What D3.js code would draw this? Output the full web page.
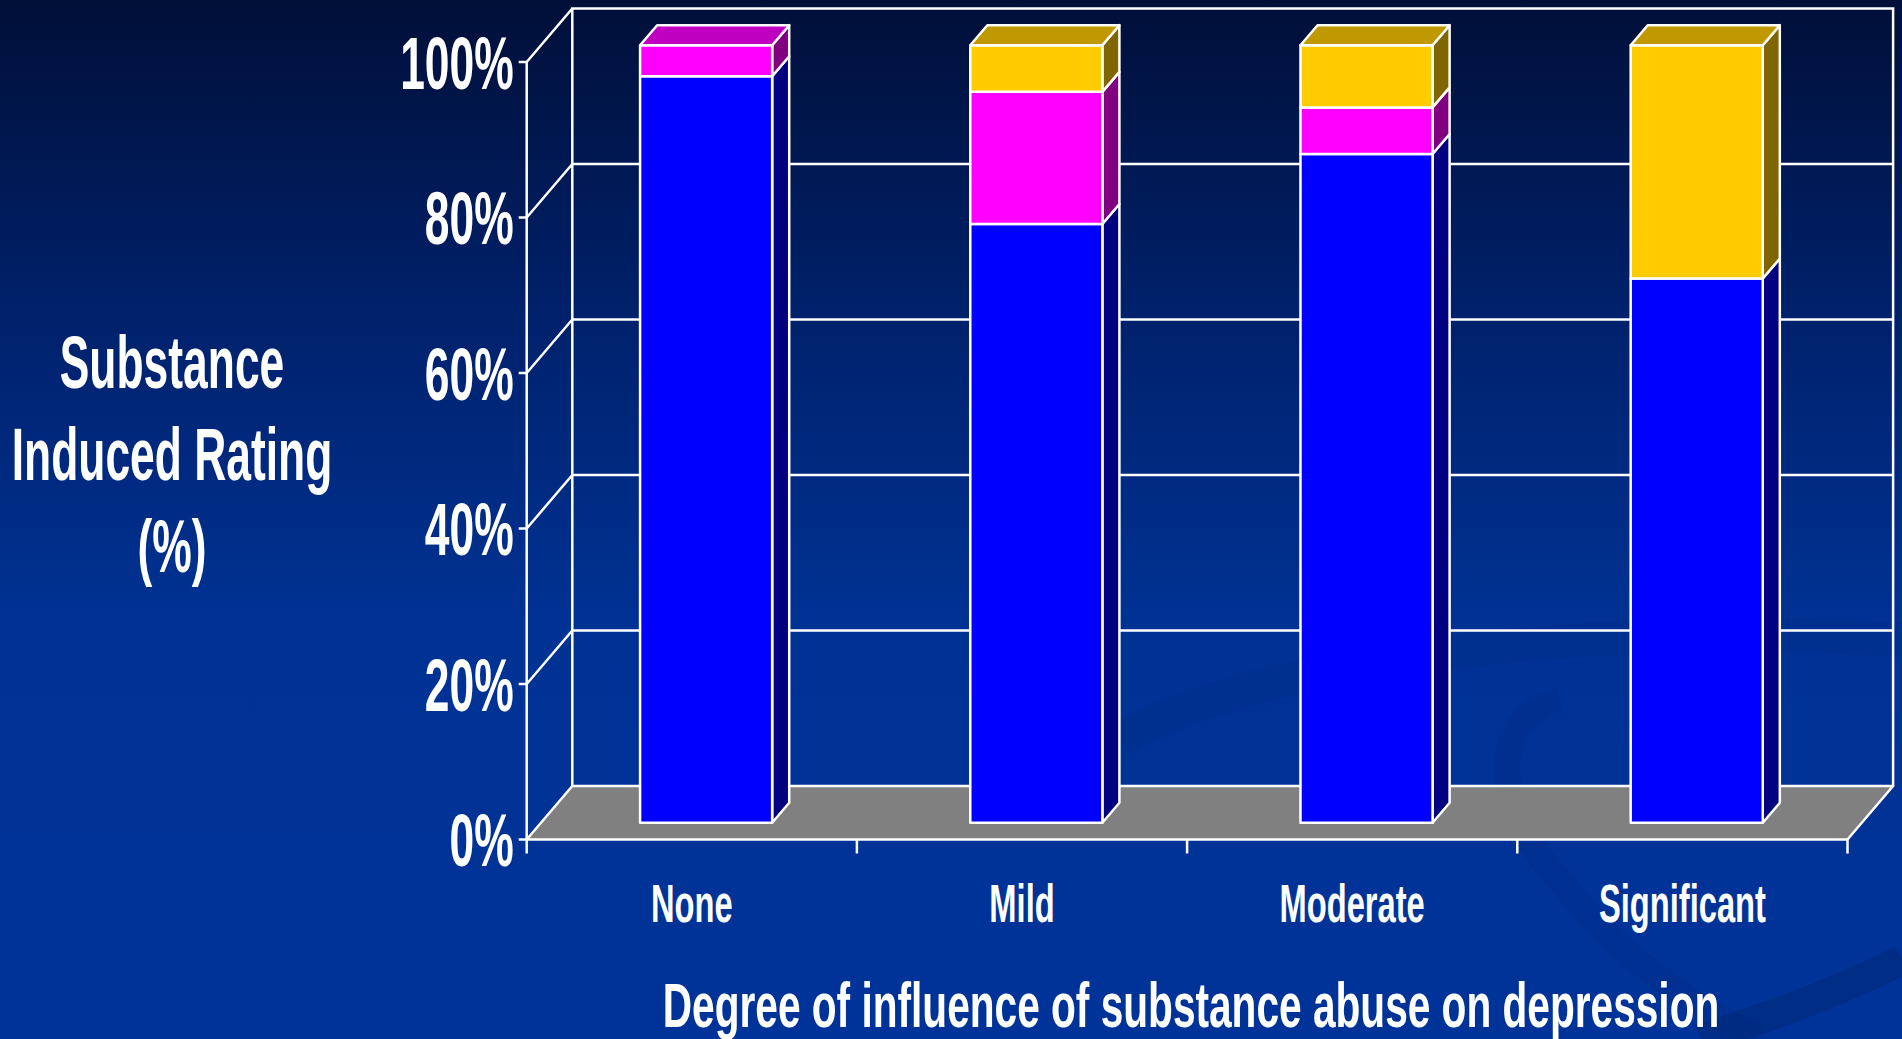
<!DOCTYPE html>
<html>
<head>
<meta charset="utf-8">
<script src="https://cdn.jsdelivr.net/npm/d3@7"></script>
<style>
	html, body { margin: 0; padding: 0; overflow: hidden; background: #003399; }
	svg { display: block; }
	text { font-family: "Liberation Sans", Arial, sans-serif; font-weight: bold; fill: #fff; }
</style>
</head>
<body>
<div id="chart"></div>
<script>
const categories = ['None', 'Mild', 'Moderate', 'Significant']
const seriesKeys = ['blue', 'pink', 'yellow']
const blueValues = [96, 77, 86, 70]
const pinkValues = [4, 17, 6, 0]
const yellowValues = [0, 6, 8, 30]
const yTicks = [0, 20, 40, 60, 80, 100]
const yTitle = ['Substance', 'Induced Rating', '(%)']
const xTitle = 'Degree of influence of substance abuse on depression'

const width = 1902
const height = 1039

// oblique depth of the 3d box
const DX = 45.6
const DY = -53.5
const BAR_Z0 = 0.314
const BAR_Z1 = 0.688
const SQUEEZE = 0.6

const colors = {
	blue: { front: '#0000ff', side: '#000080', top: '#0000c0' },
	pink: { front: '#ff00ff', side: '#800080', top: '#c000c0' },
	yellow: { front: '#ffcc00', side: '#806600', top: '#c09900' },
}

const rows = categories.map((c, i) => ({
	cat: c,
	blue: blueValues[i],
	pink: pinkValues[i],
	yellow: yellowValues[i],
}))

const svg = d3.select('#chart').append('svg')
	.attr('width', width)
	.attr('height', height)

// background
const defs = svg.append('defs')
const grad = defs.append('linearGradient')
	.attr('id', 'bg')
	.attr('x1', 0).attr('y1', 0).attr('x2', 0).attr('y2', 1)
grad.append('stop').attr('offset', '0').attr('stop-color', '#000f38')
grad.append('stop').attr('offset', '0.3').attr('stop-color', '#00216b')
grad.append('stop').attr('offset', '0.6').attr('stop-color', '#003294')
grad.append('stop').attr('offset', '1').attr('stop-color', '#003399')

svg.append('rect')
	.attr('width', width)
	.attr('height', height)
	.attr('fill', 'url(#bg)')

// faint swooshes in the lower right
const deco = svg.append('g').attr('fill', 'none')
deco.append('path')
	.attr('d', 'M1120,740 C1250,660 1600,620 1902,640')
	.attr('stroke', '#002c86').attr('stroke-width', 34).attr('opacity', 0.4)
deco.append('path')
	.attr('d', 'M1560,700 C1480,720 1500,820 1560,880 C1620,960 1700,1010 1760,1039')
	.attr('stroke', '#002c86').attr('stroke-width', 26).attr('opacity', 0.3)
deco.append('path')
	.attr('d', 'M1902,960 C1820,1000 1760,1020 1700,1039')
	.attr('stroke', '#00266f').attr('stroke-width', 30).attr('opacity', 0.45)

const x = d3.scaleBand()
	.domain(categories)
	.range([526.7, 1847.5])

const xBar = d3.scaleBand()
	.domain(categories)
	.range([526.7, 1847.5])
	.paddingInner(0.6)
	.paddingOuter(0.3)

const y = d3.scaleLinear()
	.domain([0, 100])
	.range([839.5, 62])

const proj = (px, v, z) => [px + z * DX, y(v) + z * DY]
const pts = arr => arr.map(p => p.join(',')).join(' ')

const x0 = x.range()[0]
const x1 = x.range()[1]

const frame = svg.append('g')
	.attr('stroke', '#fff')
	.attr('stroke-width', 2.5)
	.attr('fill', 'none')

// back wall grid
frame.selectAll('.grid')
	.data(yTicks.filter(d => d > 0 && d < 100))
	.join('line')
	.attr('x1', d => proj(x0, d, 1)[0])
	.attr('x2', d => proj(x1, d, 1)[0])
	.attr('y1', d => proj(x0, d, 1)[1])
	.attr('y2', d => proj(x1, d, 1)[1])

// back wall outline (top + sides)
frame.append('polyline')
	.attr('points', pts([proj(x0, 0, 1), proj(x0, 100, 1), proj(x1, 100, 1), proj(x1, 0, 1)]))

// side wall diagonals
frame.selectAll('.diag')
	.data(yTicks.filter(d => d > 0))
	.join('line')
	.attr('x1', d => proj(x0, d, 0)[0])
	.attr('y1', d => proj(x0, d, 0)[1])
	.attr('x2', d => proj(x0, d, 1)[0])
	.attr('y2', d => proj(x0, d, 1)[1])

// floor
svg.append('polygon')
	.attr('points', pts([proj(x0, 0, 0), proj(x1, 0, 0), proj(x1, 0, 1), proj(x0, 0, 1)]))
	.attr('fill', '#808080')
	.attr('stroke', '#fff')
	.attr('stroke-width', 2.5)
	.attr('stroke-linejoin', 'round')

// y axis
const axis = svg.append('g')
	.attr('stroke', '#fff')
	.attr('stroke-width', 2.5)

axis.append('line')
	.attr('x1', x0).attr('x2', x0)
	.attr('y1', y(100)).attr('y2', y(0) + 14)

axis.selectAll('.ytick')
	.data(yTicks)
	.join('line')
	.attr('x1', x0 - 8).attr('x2', x0)
	.attr('y1', d => y(d)).attr('y2', d => y(d))

axis.selectAll('.xtick')
	.data(categories.slice(1).concat(['end']))
	.join('line')
	.attr('x1', (d, i) => x0 + x.step() * (i + 1))
	.attr('x2', (d, i) => x0 + x.step() * (i + 1))
	.attr('y1', y(0)).attr('y2', y(0) + 14)

// stacked 3d bars
const stack = d3.stack().keys(seriesKeys)(rows)
const depthX = (BAR_Z1 - BAR_Z0) * DX
const depthY = (BAR_Z1 - BAR_Z0) * DY

const segs = []
stack.forEach(layer => {
	layer.forEach((d, i) => {
		if (d[1] - d[0] <= 0) return
		segs.push({ key: layer.key, cat: categories[i], v0: d[0], v1: d[1] })
	})
})

const bars = svg.append('g')
	.attr('stroke', '#fff')
	.attr('stroke-width', 2.5)
	.attr('stroke-linejoin', 'round')

categories.forEach(cat => {
	const g = bars.append('g')
	const mine = segs.filter(s => s.cat === cat)
	const topV = d3.max(mine, s => s.v1)
	mine.forEach(s => {
		const [lx, ty] = proj(xBar(cat), s.v1, BAR_Z0)
		const [, by] = proj(xBar(cat), s.v0, BAR_Z0)
		const rx = lx + xBar.bandwidth()
		const c = colors[s.key]

		g.append('polygon')
			.attr('points', pts([[rx, ty], [rx + depthX, ty + depthY], [rx + depthX, by + depthY], [rx, by]]))
			.attr('fill', c.side)

		g.append('rect')
			.attr('x', lx)
			.attr('y', ty)
			.attr('width', rx - lx)
			.attr('height', by - ty)
			.attr('fill', c.front)

		if (s.v1 === topV) {
			g.append('polygon')
				.attr('points', pts([[lx, ty], [lx + depthX, ty + depthY], [rx + depthX, ty + depthY], [rx, ty]]))
				.attr('fill', c.top)
		}
	})
})

// labels
function squeezed(sel, k = SQUEEZE) {
	return sel.attr('transform', d => `translate(${d.x},${d.y}) scale(${k},1)`)
}

svg.append('g')
	.selectAll('text')
	.data(yTicks.map(t => ({ t, x: x0 - 13, y: y(t) + 26.5 })))
	.join('text')
	.attr('text-anchor', 'end')
	.style('font-size', '74px')
	.text(d => `${d.t}%`)
	.call(squeezed)

svg.append('g')
	.selectAll('text')
	.data(categories.map(c => ({ c, x: x(c) + x.bandwidth() / 2, y: 921.7 })))
	.join('text')
	.attr('text-anchor', 'middle')
	.style('font-size', '54px')
	.text(d => d.c)
	.call(squeezed, 0.605)

svg.append('g')
	.selectAll('text')
	.data(yTitle.map((t, i) => ({ t, x: 172, y: 388 + i * 92 })))
	.join('text')
	.attr('text-anchor', 'middle')
	.style('font-size', '74px')
	.text(d => d.t)
	.call(squeezed)

svg.append('g')
	.selectAll('text')
	.data([{ t: xTitle, x: 1191, y: 1026.7 }])
	.join('text')
	.attr('text-anchor', 'middle')
	.style('font-size', '63px')
	.text(d => d.t)
	.call(squeezed, 0.645)
</script>
</body>
</html>
